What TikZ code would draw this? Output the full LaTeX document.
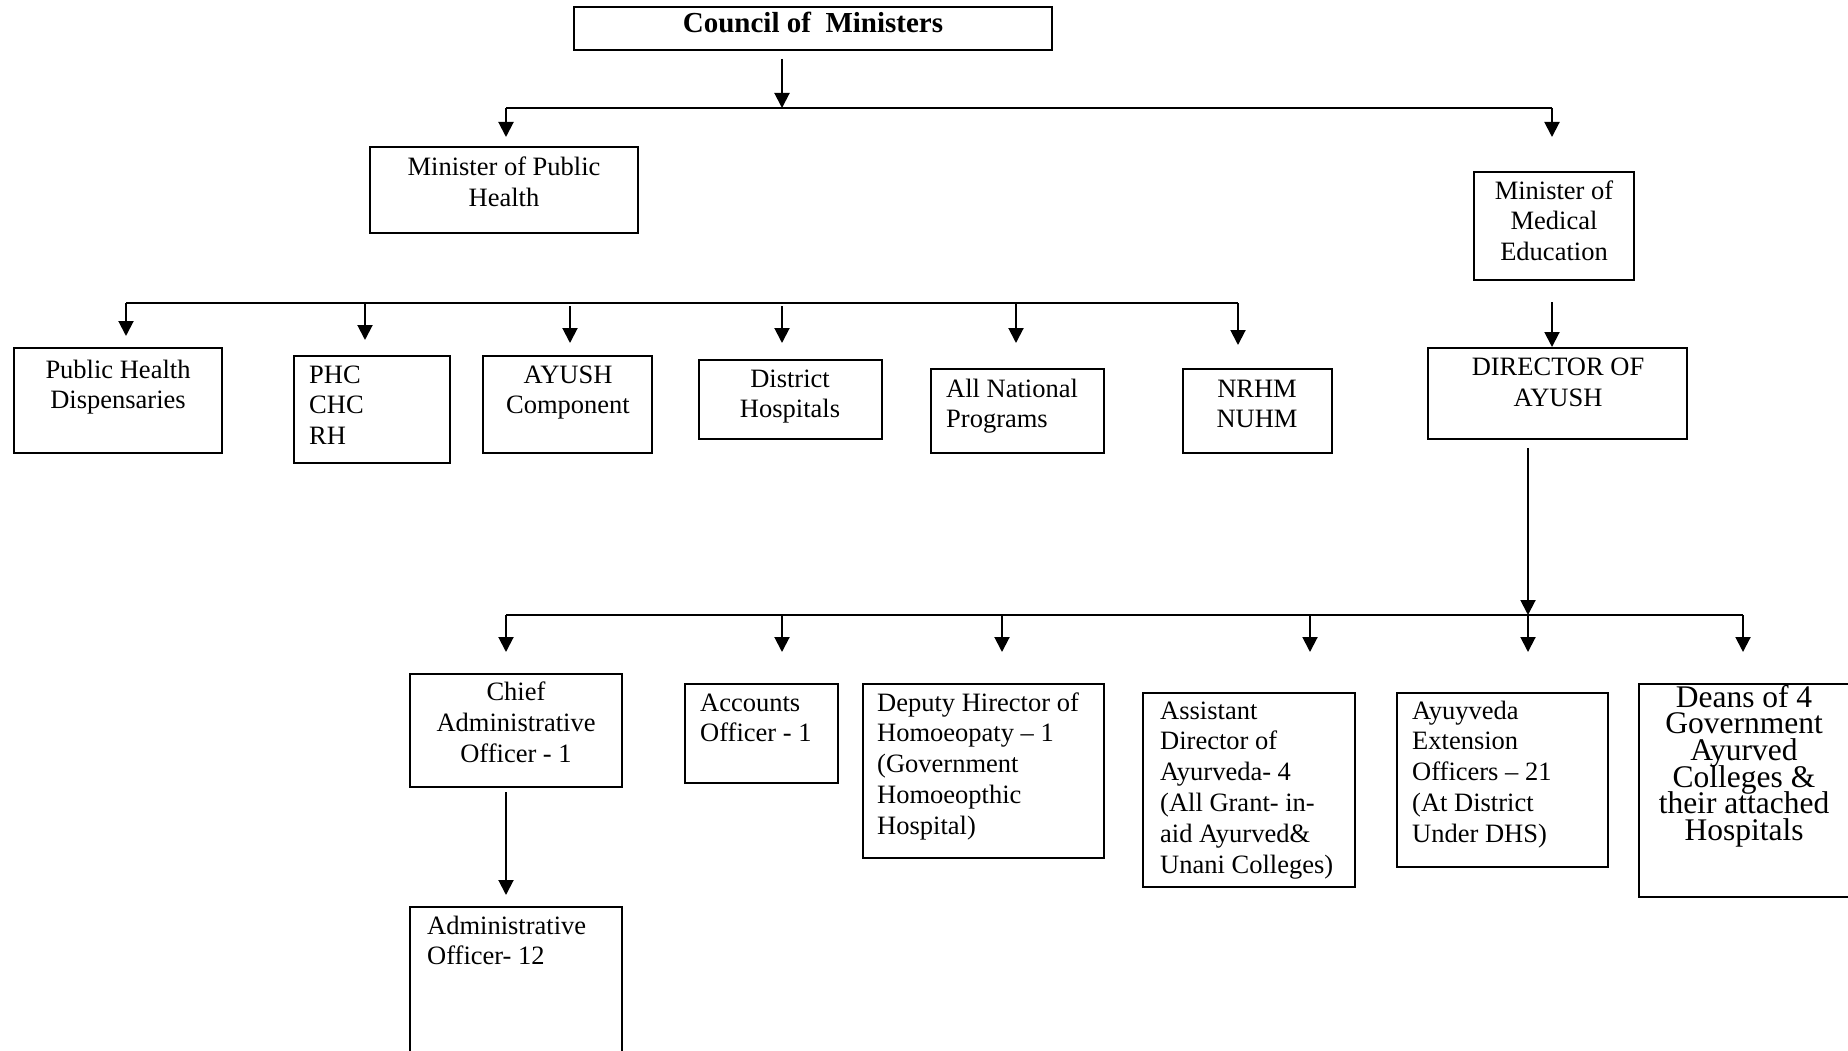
\documentclass[tikz,border=0pt]{standalone}
\usepackage{fontspec}
\setmainfont{Liberation Serif}
\usetikzlibrary{arrows.meta}
\newcommand\mytightlines{\lineskiplimit=-100pt\relax}
\begin{document}
\begin{tikzpicture}[x=1pt,y=-1pt,
  box/.style={draw, line width=2.2pt, inner sep=0pt, outer sep=0pt, anchor=north west},
  ln/.style={line width=2pt},
  arr/.style={line width=2pt, -{Triangle[length=15pt,width=15pt]}},
  txt/.style={inner sep=0pt, font=\fontsize{26.5}{30.8}\selectfont},
  ctxt/.style={txt, align=center, anchor=base},
  ltxt/.style={txt, align=left, anchor=base west}]
\useasboundingbox (0,0) rectangle (1848,1051);
% boxes
\node[box, minimum width=478pt, minimum height=43pt] (council) at (574,7) {};
\node[box, minimum width=268pt, minimum height=86pt] (mph) at (370,147) {};
\node[box, minimum width=160pt, minimum height=108pt] (mme) at (1474,172) {};
\node[box, minimum width=208pt, minimum height=105pt] (phd) at (14,348) {};
\node[box, minimum width=156pt, minimum height=107pt] (phc) at (294,356) {};
\node[box, minimum width=169pt, minimum height=97pt] (ayc) at (483,356) {};
\node[box, minimum width=183pt, minimum height=79pt] (dh) at (699,360) {};
\node[box, minimum width=173pt, minimum height=84pt] (anp) at (931,369) {};
\node[box, minimum width=149pt, minimum height=84pt] (nrhm) at (1183,369) {};
\node[box, minimum width=259pt, minimum height=91pt] (dir) at (1428,348) {};
\node[box, minimum width=212pt, minimum height=113pt] (cao) at (410,674) {};
\node[box, minimum width=153pt, minimum height=99pt] (acc) at (685,684) {};
\node[box, minimum width=241pt, minimum height=174pt] (dep) at (863,684) {};
\node[box, minimum width=212pt, minimum height=194pt] (asd) at (1143,693) {};
\node[box, minimum width=211pt, minimum height=174pt] (aeo) at (1397,693) {};
\node[box, minimum width=212pt, minimum height=213pt] (dean) at (1639,684) {};
\node[box, minimum width=212pt, minimum height=160pt] (ao) at (410,907) {};
% texts (anchor = baseline of the last line)
\node[ctxt, font=\fontsize{29}{33}\selectfont\bfseries] (councilT) at (813,33) {Council of\ \ Ministers};
\node[ctxt] (mphT) at (504,206.8) {Minister of Public\\Health};
\node[ctxt] (phdT) at (118,408.8) {Public Health\\Dispensaries};
\node[ltxt] (phcT) at (309,444.6) {PHC\\CHC\\RH};
\node[ctxt] (aycT) at (568,413.8) {AYUSH\\Component};
\node[ctxt] (dhT) at (790,417.8) {District\\Hospitals};
\node[ltxt] (anpT) at (946,427.8) {All National\\Programs};
\node[ctxt] (nrhmT) at (1257,427.8) {NRHM\\NUHM};
\node[ctxt] (mmeT) at (1554,260.6) {Minister of\\Medical\\Education};
\node[ctxt] (dirT) at (1558,406) {DIRECTOR OF\\AYUSH};
\node[ctxt] (caoT) at (516,762) {Chief\\Administrative\\Officer - 1};
\node[ltxt] (accT) at (700,741.8) {Accounts\\Officer - 1};
\node[ltxt] (depT) at (877,834.2) {Deputy Hirector of\\Homoeopaty – 1\\(Government\\Homoeopthic\\Hospital)};
\node[ltxt] (asdT) at (1160,873) {Assistant\\Director of\\Ayurveda- 4\\(All Grant- in-\\aid Ayurved\&\\Unani Colleges)};
\node[ltxt] (aeoT) at (1412,842.2) {Ayuyveda\\Extension\\Officers – 21\\(At District\\Under DHS)};
\node[ctxt, font=\fontsize{31.5}{26.7}\selectfont\mytightlines] (deanT) at (1744,840.5) {Deans of 4\\Government\\Ayurved\\Colleges \&\\their attached\\Hospitals};
\node[ltxt] (aoT) at (427,964.8) {Administrative\\Officer- 12};
% bus coordinates
\coordinate (b1L) at (506,108);
\coordinate (b1C) at (782,108);
\coordinate (b1R) at (1552,108);
\coordinate (b2a) at (126,303);
\coordinate (b2b) at (365,303);
\coordinate (b2c) at (570,303);
\coordinate (b2d) at (782,303);
\coordinate (b2e) at (1016,303);
\coordinate (b2f) at (1238,303);
\coordinate (b3a) at (506,615);
\coordinate (b3b) at (782,615);
\coordinate (b3c) at (1002,615);
\coordinate (b3d) at (1310,615);
\coordinate (b3e) at (1528,615);
\coordinate (b3f) at (1743,615);
% connectors
\draw[arr, shorten <=9pt] (council.south -| b1C) -- (b1C);
\draw[ln] (b1L) -- (b1R);
\draw[arr, shorten >=10pt] (b1L) -- (mph.north -| b1L);
\draw[arr, shorten >=35pt] (b1R) -- (mme.north -| b1R);
\draw[ln] (b2a) -- (b2f);
\draw[arr, shorten >=12pt] (b2a) -- (phd.north -| b2a);
\draw[arr, shorten >=16pt] (b2b) -- (phc.north -| b2b);
\draw[arr, shorten <=3pt, shorten >=13pt] (b2c) -- (ayc.north -| b2c);
\draw[arr, shorten <=3pt, shorten >=17pt] (b2d) -- (dh.north -| b2d);
\draw[arr, shorten >=26pt] (b2e) -- (anp.north -| b2e);
\draw[arr, shorten >=24pt] (b2f) -- (nrhm.north -| b2f);
\draw[arr, shorten <=22pt, shorten >=1pt] (mme.south -| b1R) -- (dir.north -| b1R);
\draw[arr, shorten <=9pt] (dir.south -| b3e) -- (b3e);
\draw[ln] (b3a) -- (b3f);
\draw[arr, shorten >=22pt] (b3a) -- (cao.north -| b3a);
\draw[arr, shorten >=32pt] (b3b) -- (acc.north -| b3b);
\draw[arr, shorten >=32pt] (b3c) -- (dep.north -| b3c);
\draw[arr, shorten >=41pt] (b3d) -- (asd.north -| b3d);
\draw[arr, shorten >=41pt] (b3e) -- (aeo.north -| b3e);
\draw[arr, shorten >=32pt] (b3f) -- (dean.north -| b3f);
\draw[arr, shorten <=5pt, shorten >=12pt] (cao.south -| b3a) -- (ao.north -| b3a);
\end{tikzpicture}
\end{document}
